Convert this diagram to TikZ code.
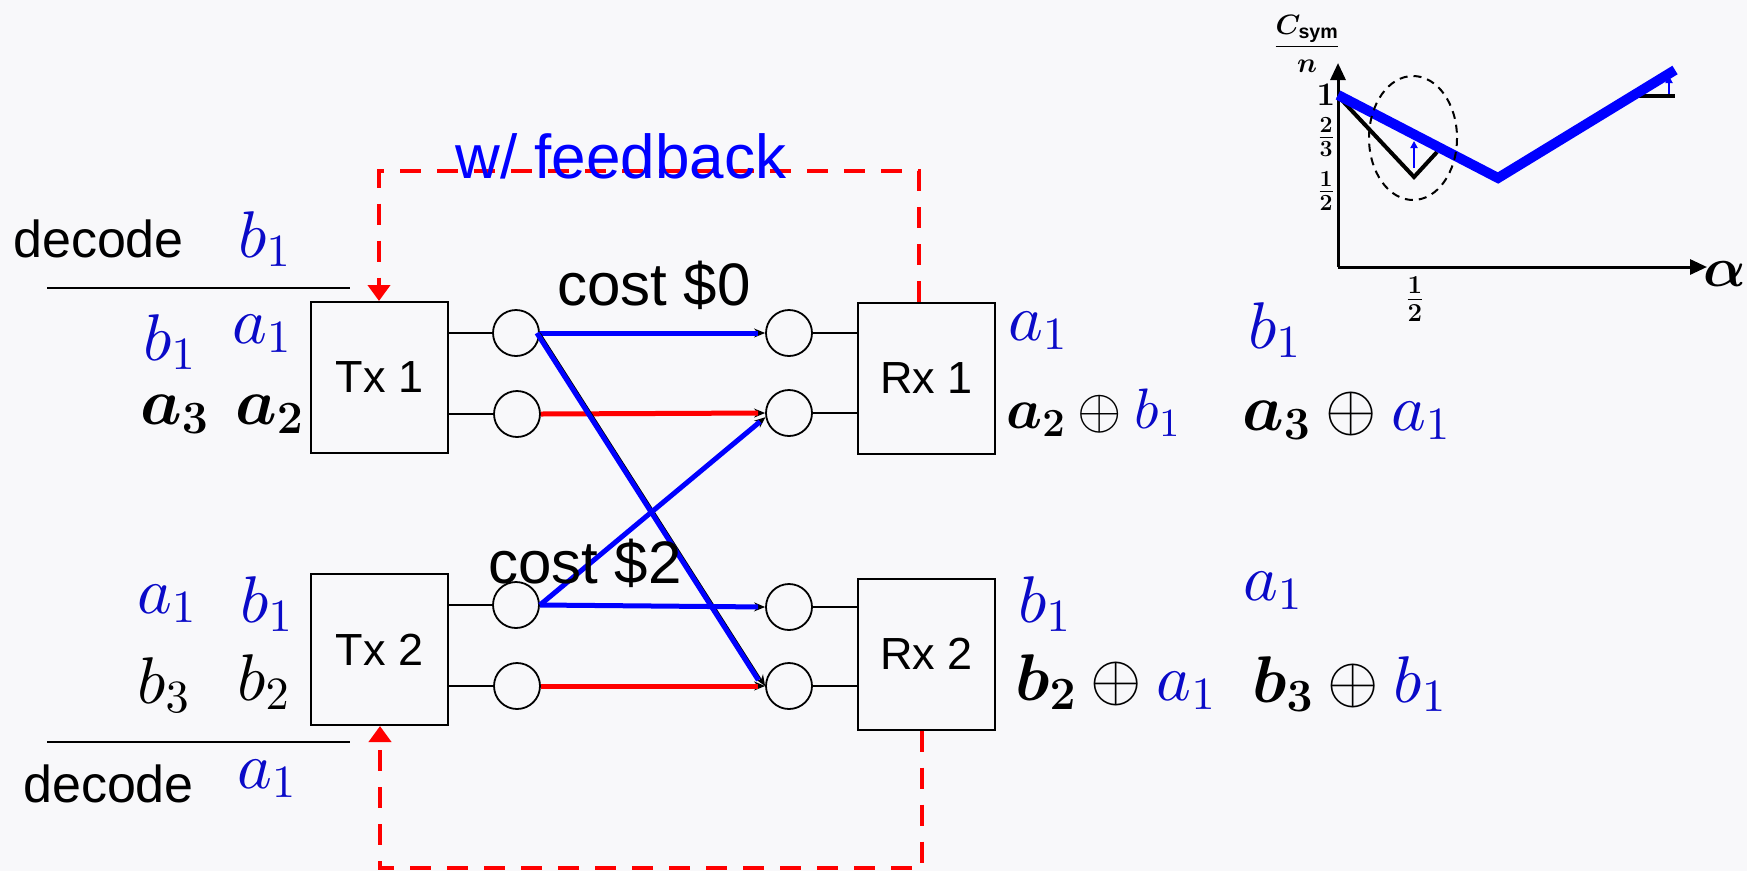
\RequirePackage{fix-cm}
\documentclass[tikz,border=0pt]{standalone}
\usepackage{amsmath}
\usepackage{bm}
\usepackage{fontspec}
\setmainfont{Liberation Sans}
\DeclareFontShape{OML}{cmm}{m}{it}{<->cmmi10}{\skewchar\font127}
\DeclareFontShape{OT1}{cmr}{m}{n}{<->cmr10}{}
\usetikzlibrary{arrows.meta,shapes.geometric}
\definecolor{bg}{RGB}{248,248,250}
\definecolor{mblue}{RGB}{10,10,200}
\begin{document}
\begin{tikzpicture}[x=1pt,y=-1pt,
  box/.style={draw, line width=2pt, minimum width=137pt, minimum height=151pt, inner sep=0pt, font=\fontsize{45}{50}\selectfont},
  port/.style={draw, circle, line width=1.8pt, minimum size=46pt, inner sep=0pt},
  wire/.style={line width=1.8pt},
  link/.style={line width=1.5pt, -{Stealth[length=11pt,width=9pt]}},
  bluelink/.style={line width=5pt, blue, shorten >=7pt},
  redlink/.style={line width=5pt, red, shorten >=7pt},
  fb/.style={red, line width=4.5pt, dash pattern=on 21pt off 16pt},
  fbtip/.style={-{Triangle[length=16pt,width=22pt]}},
  lab/.style={anchor=base west, inner sep=0pt, font=\fontsize{66}{70}\selectfont},
  word/.style={anchor=base west, inner sep=0pt, font=\fontsize{52}{56}\selectfont},
  cost/.style={anchor=base west, inner sep=0pt, font=\fontsize{60}{64}\selectfont},
  axis/.style={line width=3pt, -{Triangle[length=17pt,width=15pt]}},
  tick/.style={inner sep=0pt, font=\fontsize{33}{35}\selectfont}
]
\fill[bg] (0,0) rectangle (1747,871);
\useasboundingbox (0,0) rectangle (1747,871);

% boxes
\node[box] (tx1) at (379.5,377.5) {Tx 1};
\node[box] (tx2) at (379.5,649.5) {Tx 2};
\node[box] (rx1) at (926.5,378) {Rx 1};
\node[box] (rx2) at (926.5,654) {Rx 2};

% ports
\node[port] (p1a) at (516,333) {};
\node[port] (p1b) at (517,414) {};
\node[port] (p2a) at (516,605) {};
\node[port] (p2b) at (517,686) {};
\node[port] (q1a) at (789,333) {};
\node[port] (q1b) at (789,413) {};
\node[port] (q2a) at (789,607) {};
\node[port] (q2b) at (789,686) {};

\draw[wire] (tx1.east |- p1a) -- (p1a.west);
\draw[wire] (tx1.east |- p1b) -- (p1b.west);
\draw[wire] (tx2.east |- p2a) -- (p2a.west);
\draw[wire] (tx2.east |- p2b) -- (p2b.west);
\draw[wire] (q1a.east) -- (rx1.west |- q1a);
\draw[wire] (q1b.east) -- (rx1.west |- q1b);
\draw[wire] (q2a.east) -- (rx2.west |- q2a);
\draw[wire] (q2b.east) -- (rx2.west |- q2b);

% links
\draw[link] (p1a.east) -- (q1a.west);
\draw[bluelink] (p1a.east) -- (q1a.west);
\draw[link] (p1b.east) -- (q1b.west);
\draw[redlink] (p1b.east) -- (q1b.west);
\draw[link] (p1a.east) -- (q2b.west);
\draw[bluelink, transform canvas={xshift=-3pt}] (p1a.east) -- (q2b.west);
\draw[link] (p2a.east) -- (q1b.190);
\draw[bluelink] (p2a.east) -- (q1b.190);
\draw[link] (p2a.east) -- (q2a.west);
\draw[bluelink] (p2a.east) -- (q2a.west);
\draw[link] (p2b.east) -- (q2b.west);
\draw[redlink] (p2b.east) -- (q2b.west);

% feedback loops
\coordinate (fbTR) at (919,171);
\coordinate (fbTL) at (379,171);
\coordinate (fbBR) at (922,868);
\coordinate (fbBL) at (380,868);
\draw[fb, fbtip] (fbTR |- rx1.north) -- (fbTR) -- (fbTL) -- (fbTL |- tx1.north);
\draw[fb, fbtip] (fbBR |- rx2.south) -- (fbBR) -- (fbBL) -- (fbBL |- tx2.south);

\node[anchor=base, inner sep=0pt, text=blue, font=\fontsize{62}{66}\selectfont] (fbl) at (621,178) {w/ feedback};
\node[cost] (c0) at (557,305) {cost \$0};
\node[cost] (c2) at (488,583) {cost \$2};

% decode rules
\coordinate (d1a) at (47,288); \coordinate (d1b) at (350,288);
\coordinate (d2a) at (47,742); \coordinate (d2b) at (350,742);
\draw[wire] (d1a) -- (d1b);
\draw[wire] (d2a) -- (d2b);

% left labels Tx1
\node[word] (dec1) at (13,257) {decode};
\node[lab, text=mblue] (dec1b) at (238,257) {$b_1$};
\node[lab, text=mblue] (t1b1) at (143,360) {$b_1$};
\node[lab, text=mblue] (t1a1) at (232,343) {$a_1$};
\node[lab] (t1a3) at (140,424) {$\bm{a_3}$};
\node[lab] (t1a2) at (235,424) {$\bm{a_2}$};

% left labels Tx2
\node[lab, text=mblue] (t2a1) at (137,613) {$a_1$};
\node[lab, text=mblue] (t2b1) at (240,622) {$b_1$};
\node[lab] (t2b3) at (137,703) {$b_3$};
\node[lab] (t2b2) at (237,700) {$b_2$};
\node[word] (dec2) at (23,802) {decode};
\node[lab, text=mblue] (dec2a) at (237,788) {$a_1$};

% right labels Rx1
\node[lab, text=mblue] (r1a1) at (1008,340) {$a_1$};
\node[lab, text=mblue] (r1b1) at (1248,348) {$b_1$};
\node[lab, font=\fontsize{57}{60}\selectfont] (r1x1) at (1006,428) {$\bm{a_2}\oplus{\color{mblue}b_1}$};
\node[lab] (r1x2) at (1242,430) {$\bm{a_3}\oplus{\color{mblue}a_1}$};

% right labels Rx2
\node[lab, text=mblue] (r2b1) at (1018,622) {$b_1$};
\node[lab, text=mblue] (r2a1) at (1243,600) {$a_1$};
\node[lab] (r2x1) at (1015,700) {$\bm{b_2}\oplus{\color{mblue}a_1}$};
\node[lab] (r2x2) at (1252,702) {$\bm{b_3}\oplus{\color{mblue}b_1}$};

% inset graph
\coordinate (O) at (1338,267);
\coordinate (Ytip) at (1338,63);
\coordinate (Xtip) at (1707,267);
\draw[axis] (O) -- (Ytip);
\draw[axis] (O) -- (Xtip);
\node[inner sep=0pt, font=\fontsize{56}{58}\selectfont] (alpha) at (1725,274) {$\bm{\alpha}$};
\node[inner sep=0pt, font=\fontsize{28}{30}\selectfont] (cs) at (1307,44) {$\dfrac{\bm{C}_{\textbf{sym}}}{\bm{n}}$};
\node[tick] (y1) at (1326,95) {$\bm{1}$};
\node[tick] (y23) at (1326,137) {$\tfrac{\bm{2}}{\bm{3}}$};
\node[tick] (y12) at (1326,191) {$\tfrac{\bm{1}}{\bm{2}}$};
\node[tick, font=\fontsize{37}{39}\selectfont] (x12) at (1415,299) {$\tfrac{\bm{1}}{\bm{2}}$};

\draw[line width=4pt, line join=miter] (1338,96) -- (1414,177) -- (1437,152);
\draw[line width=4pt] (1638,96) -- (1675,96);
\draw[blue, line width=10pt, line join=miter] (1338,95) -- (1498,178) -- (1675,70);
\draw[blue, line width=2.5pt, -{Triangle[length=7pt,width=7pt]}] (1414,168) -- (1414,141);
\draw[blue, line width=2.5pt, -{Triangle[length=7pt,width=7pt]}] (1669,94) -- (1669,76);
\draw[line width=2pt, dash pattern=on 8pt off 6pt] (1413,138) ellipse [x radius=44, y radius=62];
\end{tikzpicture}
\end{document}
